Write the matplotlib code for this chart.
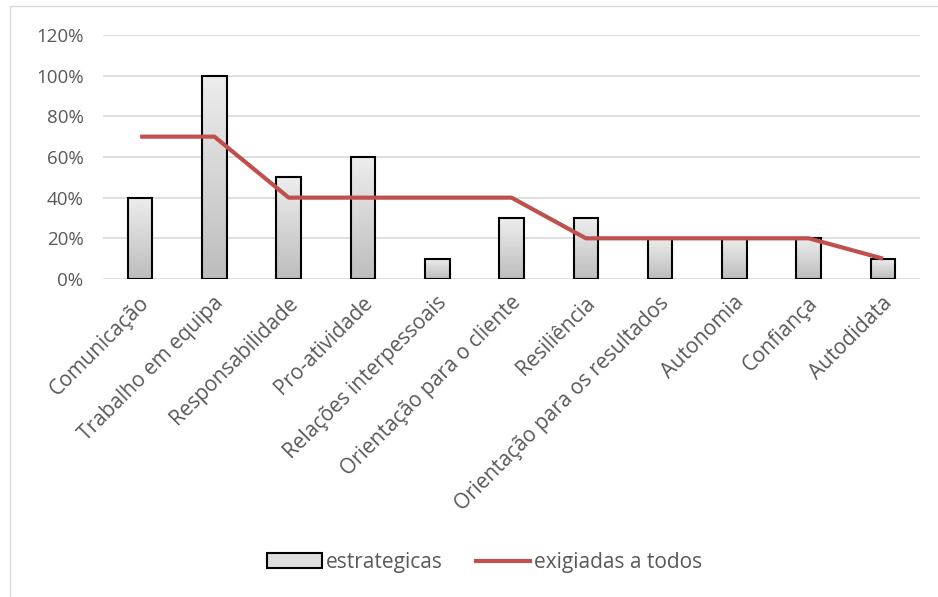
import numpy as np
import matplotlib
matplotlib.use('Agg')
import matplotlib.pyplot as plt
from matplotlib.patches import Rectangle, Patch
from matplotlib.lines import Line2D
from matplotlib.ticker import FuncFormatter
from matplotlib.transforms import ScaledTranslation

plt.rcParams['font.family'] = ['Open Sans', 'DejaVu Sans']

# competencias
categorias = ["Comunicação", "Trabalho em equipa", "Responsabilidade", "Pro-atividade",
              "Relações interpessoais", "Orientação para o cliente", "Resiliência",
              "Orientação para os resultados", "Autonomia", "Confiança", "Autodidata"]
estrategicas = [0.40, 1.00, 0.50, 0.60, 0.10, 0.30, 0.30, 0.20, 0.20, 0.20, 0.10]
exigidas = [0.70, 0.70, 0.40, 0.40, 0.40, 0.40, 0.20, 0.20, 0.20, 0.20, 0.10]

txt = '#595959'
red = '#C0504D'

fig = plt.figure(figsize=(9.38, 5.97), dpi=100)
ax = fig.add_axes([0.1098, 0.5327, 0.8712, 0.4087])

x = np.arange(len(categorias))
bars = ax.bar(x, estrategicas, width=0.33, facecolor='none', edgecolor='black',
              linewidth=1.5, zorder=3)

# vertical gradient fill for each bar (light on top, darker at the bottom)
grad = np.linspace(0, 1, 256).reshape(-1, 1)
cmap = matplotlib.colors.LinearSegmentedColormap.from_list('g', ['#bdbdbd', '#ededed'])
for b in bars:
    x0, y0 = b.get_x(), b.get_y()
    w, h = b.get_width(), b.get_height()
    im = ax.imshow(grad, cmap=cmap, aspect='auto', origin='lower',
                   extent=[x0, x0 + w, y0, y0 + h], zorder=2)
    im.set_clip_path(b)

ax.plot(x, exigidas, color=red, linewidth=3, zorder=4, solid_capstyle='butt')

ax.set_xlim(-0.5, len(categorias) - 0.5)
ax.set_ylim(0, 1.2)
ax.set_yticks(np.arange(0, 1.21, 0.2))
ax.yaxis.set_major_formatter(FuncFormatter(lambda v, p: f"{v*100:.0f}%"))
ax.grid(axis='y', color='#d9d9d9', linewidth=1.2, zorder=0)
ax.set_axisbelow(True)
for s in ax.spines.values():
    s.set_visible(False)
ax.tick_params(axis='both', length=0, colors=txt)
ax.tick_params(axis='y', pad=14, labelsize=13.5)
ax.set_xticks(x)
ax.set_xticklabels(categorias, rotation=45, ha='right', va='center',
                   rotation_mode='anchor', fontsize=15)
ax.tick_params(axis='x', pad=15)
# nudge the slanted labels a little to the right
shift = ScaledTranslation(6 / 100, 0, fig.dpi_scale_trans)
for lab in ax.get_xticklabels():
    lab.set_transform(lab.get_transform() + shift)

handles = [Patch(facecolor='#dedede', edgecolor='black', linewidth=1.5),
           Line2D([0], [0], color=red, linewidth=3)]
fig.legend(handles, ['estrategicas', 'exigiadas a todos'], loc='center',
           bbox_to_anchor=(0.517, 0.058), ncol=2, frameon=False, fontsize=15,
           labelcolor=txt, handlelength=2.6, handletextpad=0.2, columnspacing=1.6)

# outer chart border
fig.add_artist(Rectangle((0.011, -0.01), 1.0, 1.0, transform=fig.transFigure,
                         fill=False, edgecolor='#d9d9d9', linewidth=1))

fig.savefig('out.png', dpi=100)
